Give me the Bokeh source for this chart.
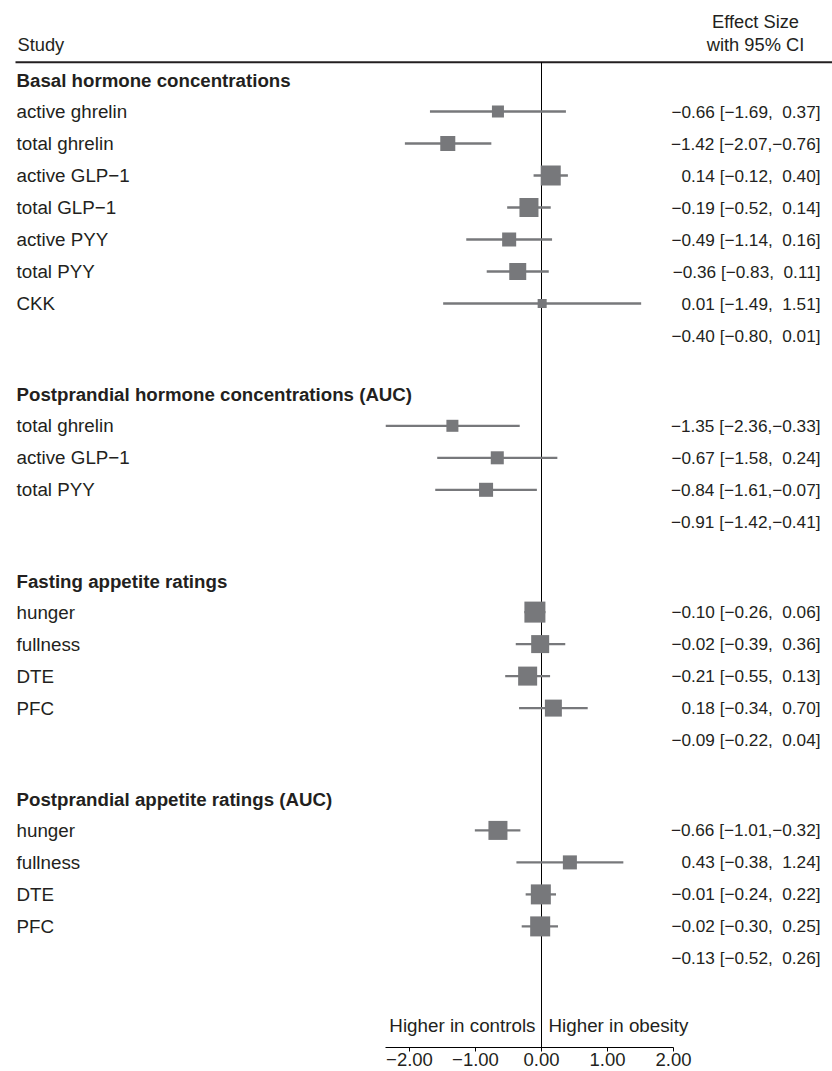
from bokeh.plotting import figure
from bokeh.models import Range1d, ColumnDataSource, FixedTicker, LinearAxis, CustomJSTickFormatter
from bokeh.embed import file_html
from bokeh.resources import INLINE
from bokeh.core.properties import value

# ---------------- data ----------------
section_titles = [
    "Basal hormone concentrations",
    "Postprandial hormone concentrations (AUC)",
    "Fasting appetite ratings",
    "Postprandial appetite ratings (AUC)",
]
study_section = [0, 0, 0, 0, 0, 0, 0, 1, 1, 1, 2, 2, 2, 2, 3, 3, 3, 3]
study_names = [
    "active ghrelin", "total ghrelin", "active GLP\u22121", "total GLP\u22121",
    "active PYY", "total PYY", "CKK",
    "total ghrelin", "active GLP\u22121", "total PYY",
    "hunger", "fullness", "DTE", "PFC",
    "hunger", "fullness", "DTE", "PFC",
]
effect = [-0.66, -1.42, 0.14, -0.19, -0.49, -0.36, 0.01,
          -1.35, -0.67, -0.84,
          -0.10, -0.02, -0.21, 0.18,
          -0.66, 0.43, -0.01, -0.02]
ci_low = [-1.69, -2.07, -0.12, -0.52, -1.14, -0.83, -1.49,
          -2.36, -1.58, -1.61,
          -0.26, -0.39, -0.55, -0.34,
          -1.01, -0.38, -0.24, -0.30]
ci_high = [0.37, -0.76, 0.40, 0.14, 0.16, 0.11, 1.51,
           -0.33, 0.24, -0.07,
           0.06, 0.36, 0.13, 0.70,
           -0.32, 1.24, 0.22, 0.25]
weight = [8.5, 13.3, 23.6, 21.3, 11.6, 17.0, 4.8,
          8.5, 10.0, 11.6,
          26.0, 19.1, 21.3, 17.0,
          21.3, 11.6, 23.6, 23.6]
pooled_effect = [-0.40, -0.91, -0.09, -0.13]
pooled_low = [-0.80, -1.42, -0.22, -0.52]
pooled_high = [0.01, -0.41, 0.04, 0.26]
x_ticks = [-2, -1, 0, 1, 2]
left_note = "Higher in controls"
right_note = "Higher in obesity"

# ---------------- layout ----------------
W, H = 832, 1071
OFF = 0
ZERO_PX = 541.0
PX_PER_UNIT = 66.0
FONT = value("Liberation Sans")
TXT = "#231F20"
GRAY = "#77787B"


def px2x(px):
    return (px - ZERO_PX) / PX_PER_UNIT


def fmt(v):
    return f"{v:.2f}".replace("-", "\u2212")


def fmt_pad(v):
    s = fmt(v)
    return s if v < 0 else "\u2007" + s


def ci_text(e, l, h):
    return f"{fmt(e)} [{fmt_pad(l)},{fmt_pad(h)}]"


# row positions (page pixels)
header_y = []
study_y = []
pooled_y = []
y = 80.0
for s in range(len(section_titles)):
    header_y.append(y)
    y += 31.0
    for i, sec in enumerate(study_section):
        if sec == s:
            study_y.append(y)
            y += 32.0
    pooled_y.append(y)
    y += 59.3

AXIS_Y = 1047.0
HEADER_LINE_Y = 61.7
NOTE_Y = 1025.0

p = figure(width=W, height=H,
           x_range=Range1d(px2x(OFF), px2x(OFF + W)),
           y_range=Range1d(OFF + H, OFF),
           output_backend="svg", toolbar_location=None,
           x_axis_type=None, y_axis_type=None,
           min_border=0, outline_line_color=None)
p.xgrid.visible = False
p.ygrid.visible = False
p.background_fill_color = "white"

# header
p.segment(x0=[px2x(15)], y0=[HEADER_LINE_Y], x1=[px2x(OFF + W)], y1=[HEADER_LINE_Y],
          line_color=TXT, line_width=2)
p.text(x=[px2x(17)], y=[44], text=["Study"], text_font=FONT,
       text_font_size="18.3px", text_color=TXT, text_align="left", text_baseline="middle")
p.text(x=[px2x(755), px2x(755)], y=[21, 44], text=["Effect Size", "with 95% CI"],
       text_font=FONT, text_font_size="18.3px", text_color=TXT,
       text_align="center", text_baseline="middle")

# zero line
p.segment(x0=[0], y0=[HEADER_LINE_Y], x1=[0], y1=[AXIS_Y], line_color="black", line_width=1)

# section titles
p.text(x=[px2x(16)] * len(section_titles), y=header_y, text=section_titles,
       text_font=FONT, text_font_size="18.7px", text_font_style="bold", text_color=TXT,
       text_align="left", text_baseline="middle")

# studies
src = ColumnDataSource(dict(
    y=study_y, es=effect, lo=ci_low, hi=ci_high,
    size=[4.12 * (w ** 0.5) for w in weight],
    name=study_names,
    lab=[ci_text(e, l, h) for e, l, h in zip(effect, ci_low, ci_high)],
    lx=[px2x(16)] * len(effect),
    rx=[px2x(820)] * len(effect),
))
p.segment(x0="lo", y0="y", x1="hi", y1="y", source=src, line_color=GRAY, line_width=2.3)
p.scatter(x="es", y="y", size="size", marker="square", source=src,
          fill_color=GRAY, line_color=None)
p.text(x="lx", y="y", text="name", source=src, text_font=FONT, text_font_size="18.8px",
       text_color=TXT, text_align="left", text_baseline="middle")
p.text(x="rx", y="y", text="lab", source=src, text_font=FONT, text_font_size="17.2px",
       text_color=TXT, text_align="right", text_baseline="middle")

# pooled
p.text(x=[px2x(820)] * len(pooled_effect), y=pooled_y,
       text=[ci_text(e, l, h) for e, l, h in zip(pooled_effect, pooled_low, pooled_high)],
       text_font=FONT, text_font_size="17.2px", text_color=TXT,
       text_align="right", text_baseline="middle")

# direction notes
p.text(x=[px2x(535)], y=[NOTE_Y], text=[left_note], text_font=FONT, text_font_size="18.8px",
       text_color=TXT, text_align="right", text_baseline="middle")
p.text(x=[px2x(548)], y=[NOTE_Y], text=[right_note], text_font=FONT, text_font_size="18.8px",
       text_color=TXT, text_align="left", text_baseline="middle")

# axis
xaxis = LinearAxis(ticker=FixedTicker(ticks=x_ticks, minor_ticks=[]),
                   bounds=(min(ci_low), max(x_ticks)),
                   fixed_location=AXIS_Y,
                   formatter=CustomJSTickFormatter(code="return tick.toFixed(2).replace('-', '\u2212');"))
xaxis.axis_line_color = "black"
xaxis.axis_line_width = 1
xaxis.major_tick_out = 4
xaxis.major_tick_in = 0
xaxis.minor_tick_out = 0
xaxis.minor_tick_in = 0
xaxis.major_tick_line_color = "black"
xaxis.major_label_standoff = 1
xaxis.major_label_text_font = "Liberation Sans"
xaxis.major_label_text_font_size = "18.5px"
xaxis.major_label_text_color = TXT
p.add_layout(xaxis, "below")

open("out.html", "w").write(file_html(p, INLINE))
